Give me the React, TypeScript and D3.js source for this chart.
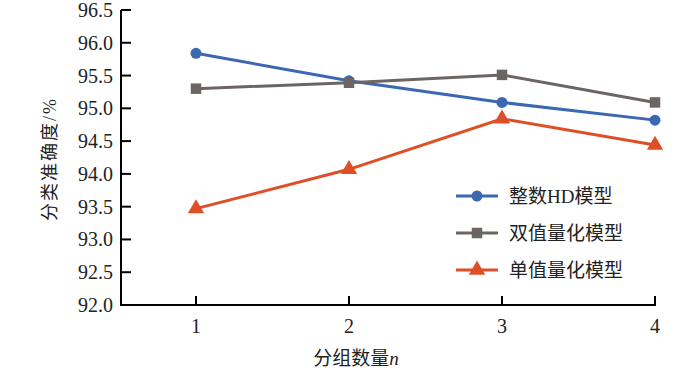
import React, { useEffect, useRef } from 'react';
import * as d3 from 'd3';

const groups = [1, 2, 3, 4];
const yTicks = [92.0, 92.5, 93.0, 93.5, 94.0, 94.5, 95.0, 95.5, 96.0, 96.5];
const intHD = [95.84, 95.42, 95.09, 94.82];
const binaryQ = [95.3, 95.39, 95.51, 95.09];
const singleQ = [93.47, 94.07, 94.84, 94.44];
const seriesNames = ['整数HD模型', '双值量化模型', '单值量化模型'];
const seriesColors = ['#3b68b0', '#6b6663', '#df4f27'];
const markerShapes = [d3.symbolCircle, d3.symbolSquare, d3.symbolTriangle];
const markerSizes = [95, 110, 115];

const W = 700;
const H = 373;
const font = "'Liberation Serif', 'Noto Sans CJK SC', serif";

export default function App() {
  const ref = useRef<SVGSVGElement>(null);

  useEffect(() => {
    const svg = d3.select(ref.current);
    svg.selectAll('*').remove();

    const x = d3.scaleLinear().domain([1, 4]).range([196, 655]);
    const y = d3.scaleLinear().domain([92, 96.5]).range([305, 10]);
    const axisLeft = 121;

    // axes lines
    svg.append('line')
      .attr('x1', axisLeft).attr('x2', axisLeft)
      .attr('y1', y(96.5)).attr('y2', y(92) + 1)
      .attr('stroke', '#000').attr('stroke-width', 2);
    svg.append('line')
      .attr('x1', axisLeft - 1).attr('x2', x(4) + 1)
      .attr('y1', y(92)).attr('y2', y(92))
      .attr('stroke', '#000').attr('stroke-width', 2);

    // y ticks (inward)
    const yt = svg.append('g');
    yTicks.forEach(t => {
      yt.append('line')
        .attr('x1', axisLeft).attr('x2', axisLeft + 10)
        .attr('y1', y(t)).attr('y2', y(t))
        .attr('stroke', '#000').attr('stroke-width', 2);
      yt.append('text')
        .attr('x', 113).attr('y', y(t))
        .attr('dy', '0.35em')
        .attr('text-anchor', 'end')
        .style('font-family', font)
        .style('font-size', '20px')
        .attr('fill', '#222')
        .text(t.toFixed(1));
    });

    // x ticks (inward)
    const xt = svg.append('g');
    groups.forEach(g => {
      xt.append('line')
        .attr('x1', x(g)).attr('x2', x(g))
        .attr('y1', y(92)).attr('y2', y(92) - 9)
        .attr('stroke', '#000').attr('stroke-width', 2);
      xt.append('text')
        .attr('x', x(g)).attr('y', 326)
        .attr('dy', '0.35em')
        .attr('text-anchor', 'middle')
        .style('font-family', font)
        .style('font-size', '20px')
        .attr('fill', '#222')
        .text(g);
    });

    // axis titles
    svg.append('text')
      .attr('transform', 'translate(50,159) rotate(-90)')
      .attr('text-anchor', 'middle')
      .attr('dy', '0.35em')
      .style('font-family', font)
      .style('font-size', '18px')
      .style('letter-spacing', '2px')
      .attr('fill', '#222')
      .text('分类准确度/%');

    const xt2 = svg.append('text')
      .attr('x', 356).attr('y', 358)
      .attr('dy', '0.35em')
      .attr('text-anchor', 'middle')
      .style('font-family', font)
      .style('font-size', '19px')
      .attr('fill', '#222');
    xt2.append('tspan').text('分组数量');
    xt2.append('tspan').style('font-style', 'italic').text('n');

    // series
    const allSeries = [intHD, binaryQ, singleQ];
    const line = d3.line<number>().x((_, i) => x(groups[i])).y(d => y(d));
    allSeries.forEach((vals, si) => {
      const g = svg.append('g');
      g.append('path')
        .attr('d', line(vals))
        .attr('fill', 'none')
        .attr('stroke', seriesColors[si])
        .attr('stroke-width', 3);
      const sym = d3.symbol().type(markerShapes[si]).size(markerSizes[si]);
      vals.forEach((v, i) => {
        g.append('path')
          .attr('d', sym())
          .attr('transform', `translate(${x(groups[i])},${y(v)})`)
          .attr('fill', seriesColors[si]);
      });
    });

    // legend
    const legendRows = [196, 233, 270];
    seriesNames.forEach((name, si) => {
      const ly = legendRows[si];
      const lg = svg.append('g');
      lg.append('line')
        .attr('x1', 456).attr('x2', 498)
        .attr('y1', ly).attr('y2', ly)
        .attr('stroke', seriesColors[si]).attr('stroke-width', 3);
      lg.append('path')
        .attr('d', d3.symbol().type(markerShapes[si]).size(markerSizes[si])())
        .attr('transform', `translate(477,${ly})`)
        .attr('fill', seriesColors[si]);
      lg.append('text')
        .attr('x', 509).attr('y', ly)
        .attr('dy', '0.35em')
        .style('font-family', font)
        .style('font-size', '19px')
        .attr('fill', '#222')
        .text(name);
    });
  }, []);

  return (
    <svg
      ref={ref}
      width={W}
      height={H}
      style={{ position: 'absolute', left: 0, top: 0, background: '#fff' }}
    />
  );
}
